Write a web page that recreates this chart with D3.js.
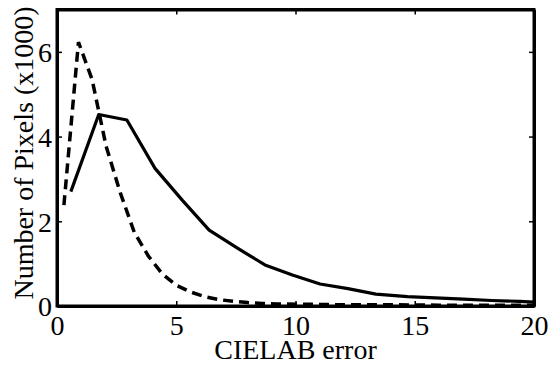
<!DOCTYPE html>
<html>
<head>
<meta charset="utf-8">
<script src="https://cdn.jsdelivr.net/npm/d3@7"></script>
<style>
  html, body { margin: 0; padding: 0; background: #fff; }
  svg { display: block; }
  text { font-family: "Liberation Serif", "Times New Roman", serif; fill: #000; }
</style>
</head>
<body>
<svg id="chart" width="552" height="366"></svg>
<script>
// Data (values in thousands of pixels)
const solidX = [0.58, 1.75, 2.93, 4.11, 5.25, 6.38, 7.55, 8.72, 9.87, 11.03, 12.2, 13.37, 14.7, 15.86, 17.04, 18.21, 19.39, 20];
const solidY = [2.70, 4.52, 4.39, 3.25, 2.50, 1.79, 1.37, 0.97, 0.73, 0.52, 0.41, 0.28, 0.22, 0.19, 0.16, 0.13, 0.11, 0.09];
const dashX = [0.29, 0.90, 1.47, 2.06, 2.65, 3.24, 3.83, 4.41, 5.0, 5.6, 6.2, 6.8, 7.4, 8.0, 8.6, 9.2, 10.5, 12, 14, 16, 18, 20];
const dashY = [2.38, 6.23, 5.35, 3.77, 2.68, 1.74, 1.18, 0.76, 0.49, 0.33, 0.22, 0.15, 0.11, 0.08, 0.06, 0.05, 0.04, 0.03, 0.03, 0.02, 0.02, 0.02];
const xTicks = [0, 5, 10, 15, 20];
const yTicks = [0, 2, 4, 6];
const xLabel = "CIELAB error";
const yLabel = "Number of Pixels (x1000)";

const svg = d3.select("#chart");
const L = 57, R = 534, T = 9.5, B = 306;
const x = d3.scaleLinear().domain([0, 20]).range([L, R]);
const y = d3.scaleLinear().domain([0, 7]).range([B, T]);

const line = d3.line().x(d => x(d[0])).y(d => y(d[1]));

svg.append("path")
  .datum(dashX.map((v, i) => [v, dashY[i]]))
  .attr("d", line)
  .attr("fill", "none").attr("stroke", "#000")
  .attr("stroke-width", 3.5)
  .attr("stroke-dasharray", "10,6");

svg.append("path")
  .datum(solidX.map((v, i) => [v, solidY[i]]))
  .attr("d", line)
  .attr("fill", "none").attr("stroke", "#000")
  .attr("stroke-width", 3.2)
  .attr("stroke-linejoin", "round");

const fs = 28;
const fmt = d3.format("d");
const axBottom = svg.append("g").attr("transform", `translate(0,${B})`)
  .call(d3.axisBottom(x).tickValues(xTicks).tickFormat(fmt).tickSizeInner(-5).tickSizeOuter(0).tickPadding(9));
const axLeft = svg.append("g").attr("transform", `translate(${L},0)`)
  .call(d3.axisLeft(y).tickValues(yTicks).tickFormat(fmt).tickSizeInner(-5).tickSizeOuter(0).tickPadding(5));
const axTop = svg.append("g").attr("transform", `translate(0,${T})`)
  .call(d3.axisTop(x).tickValues(xTicks).tickSizeInner(-5).tickSizeOuter(0).tickFormat(""));
const axRight = svg.append("g").attr("transform", `translate(${R},0)`)
  .call(d3.axisRight(y).tickValues(yTicks).tickSizeInner(-5).tickSizeOuter(0).tickFormat(""));

[axBottom, axLeft, axTop, axRight].forEach(g => {
  g.select(".domain").attr("stroke", "#000").attr("stroke-width", 3);
  g.selectAll(".tick line").attr("stroke", "#000").attr("stroke-width", 1.5);
  g.selectAll("text").attr("font-size", fs).attr("font-family", '"Liberation Serif", serif').attr("fill", "#000");
});
axBottom.selectAll("text").attr("dy", "0.71em");
axLeft.selectAll("text").attr("dy", "0.35em");

svg.append("rect").attr("x", L).attr("y", T).attr("width", R - L).attr("height", B - T)
  .attr("fill", "none").attr("stroke", "#000").attr("stroke-width", 3);

svg.append("text")
  .attr("x", (L + R) / 2).attr("y", 359)
  .attr("text-anchor", "middle").attr("font-size", fs)
  .text(xLabel);

svg.append("text")
  .attr("transform", `translate(33,153) rotate(-90)`)
  .attr("text-anchor", "middle").attr("font-size", fs)
  .text(yLabel);
</script>
</body>
</html>
